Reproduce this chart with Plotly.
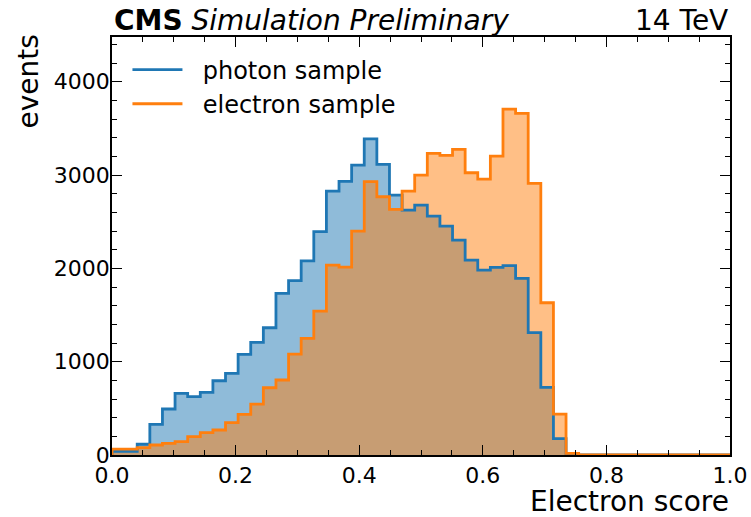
import numpy as np
import plotly.graph_objects as go

# 49 equal bins on [0, 1]
n_bins = 49
edges = np.linspace(0.0, 1.0, n_bins + 1)

photon_counts = [40, 40, 115, 329, 493, 661, 625, 671, 796, 875,
                 1079, 1207, 1364, 1732, 1868, 2080, 2393, 2829, 2933, 3107,
                 3389, 3114, 2786, 2625, 2679, 2561, 2454, 2304, 2089, 1982,
                 2011, 2029, 1893, 1311, 725, 175, 0, 0, 0, 0,
                 0, 0, 0, 0, 0, 0, 0, 0, 0]
electron_counts = [62, 62, 80, 107, 125, 143, 196, 239, 268, 346,
                   436, 546, 721, 804, 1082, 1250, 1543, 2036, 2014, 2400,
                   2929, 2768, 2632, 2829, 3000, 3232, 3211, 3275, 3025, 2957,
                   3204, 3707, 3661, 2911, 1632, 439, 18, 0, 0, 0,
                   0, 0, 0, 0, 0, 0, 0, 0, 0]

series = [
    ("photon sample", photon_counts, "#1f77b4", "rgba(31,119,180,0.5)"),
    ("electron sample", electron_counts, "#ff7f0e", "rgba(255,127,14,0.5)"),
]

FONT = "DejaVu Sans"
PAD = "\u00a0\u00a0"


def step_xy(vals):
    xs = [edges[0]] + list(edges)
    ys = [0] + list(vals) + [0]
    return xs, ys


fig = go.Figure()
# fills first
for name, vals, col, fcol in series:
    xs, ys = step_xy(vals)
    fig.add_trace(go.Scatter(x=xs, y=ys, mode="lines", line=dict(width=0, shape="hv", color=col),
                             fill="tozeroy", fillcolor=fcol, showlegend=False, hoverinfo="skip"))
# edges on top
for name, vals, col, fcol in series:
    xs, ys = step_xy(vals)
    fig.add_trace(go.Scatter(x=xs, y=ys, mode="lines", name=PAD + name,
                             line=dict(width=2.8, shape="hv", color=col)))

axis_common = dict(showline=True, linecolor="black", linewidth=1.6, mirror="ticks",
                   ticks="inside", ticklen=10, tickwidth=1.4, tickcolor="black",
                   showgrid=False, zeroline=False, automargin=False,
                   tickfont=dict(family=FONT, size=22, color="black"))

fig.update_xaxes(range=[0, 1], dtick=0.2, tick0=0, tickformat=".1f",
                 minor=dict(ticks="inside", ticklen=5, dtick=0.05, tickwidth=1.2, tickcolor="black"),
                 **axis_common)
fig.update_yaxes(range=[0, 4480], dtick=1000, tick0=0, ticklabelstandoff=-4,
                 minor=dict(ticks="inside", ticklen=5, dtick=200, tickwidth=1.2, tickcolor="black"),
                 **axis_common)

fig.update_layout(
    width=751, height=517,
    margin=dict(l=112, r=21, t=37, b=62, autoexpand=False),
    plot_bgcolor="white", paper_bgcolor="white",
    font=dict(family=FONT, color="black"),
    legend=dict(x=0.025, y=0.975, xanchor="left", yanchor="top", bgcolor="rgba(0,0,0,0)",
                font=dict(family=FONT, size=24), itemwidth=50, tracegroupgap=0),
    annotations=[
        dict(text="<b>CMS</b> <i>Simulation Preliminary</i>", xref="paper", yref="paper",
             x=0, y=1, xanchor="left", yanchor="bottom", yshift=-2, showarrow=False,
             font=dict(family=FONT, size=28)),
        dict(text="14 TeV", xref="paper", yref="paper", x=1, y=1, xanchor="right",
             yanchor="bottom", yshift=-2, showarrow=False, font=dict(family=FONT, size=28)),
        dict(text="events", xref="paper", yref="paper", x=0, y=1, xanchor="right",
             yanchor="top", xshift=-66, yshift=4, textangle=-90, showarrow=False,
             font=dict(family=FONT, size=28)),
        dict(text="Electron score", xref="paper", yref="paper", x=1, y=0, xanchor="right",
             yanchor="top", yshift=-29, borderpad=0, showarrow=False,
             font=dict(family=FONT, size=28)),
    ],
)

fig.write_html("out.html")
